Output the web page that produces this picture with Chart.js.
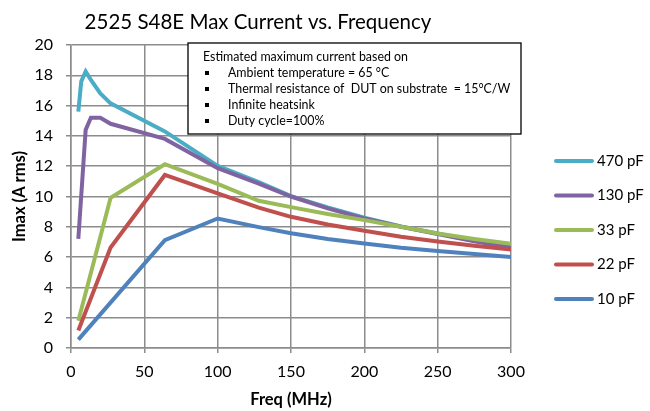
<!DOCTYPE html>
<html>
<head>
<meta charset="utf-8">
<script src="https://cdn.jsdelivr.net/npm/chart.js@4"></script>
<style>
  body{ margin:0; background:#fff; }
  #wrap{ width:650px; height:411px; }
</style>
</head>
<body>
<div id="wrap"><canvas id="chart" width="650" height="411"></canvas></div>
<script>
// frequency points (MHz), null = no point for that series
const freqs   = [5, 7, 10, 13.56, 20, 27, 64, 100, 128, 150, 175, 200, 225, 250, 275, 300];
const imax470 = [15.6, 17.6, 18.25, 17.7, 16.8, 16.15, 14.3, 12.02, 10.95, 10.03, 9.28, 8.6, 8.03, 7.56, 7.07, 6.68];
const imax130 = [7.2, null, 14.4, 15.2, 15.2, 14.8, 13.8, 11.87, 10.85, 10.0, 9.22, 8.55, 8.0, 7.52, 7.05, 6.63];
const imax33  = [1.8, null, null, null, null, 9.92, 12.13, 10.83, 9.72, 9.3, 8.85, 8.44, 8.0, 7.56, 7.2, 6.88];
const imax22  = [1.16, null, null, null, null, 6.63, 11.42, 10.2, 9.26, 8.66, 8.15, 7.74, 7.35, 7.03, 6.75, 6.5];
const imax10  = [0.55, null, null, null, null, null, 7.12, 8.55, 7.98, 7.58, 7.2, 6.9, 6.62, 6.4, 6.2, 6.01];

const seriesLabels = ['10 pF', '22 pF', '33 pF', '130 pF', '470 pF'];
const seriesValues = [imax10, imax22, imax33, imax130, imax470];
const seriesColors = ['#4F81BD', '#C0504D', '#9BBB59', '#8064A2', '#4BACC6'];

const noteLines = [
  'Ambient temperature = 65 \u00B0C',
  'Thermal resistance of  DUT on substrate  = 15\u00B0C/W',
  'Infinite heatsink',
  'Duty cycle=100%'
];

const FONT = 'Lato, "Open Sans", sans-serif';
const GRID = '#8c8c8c';

function toPoints(vals){
  const pts = [];
  vals.forEach((v,i)=>{ if(v !== null) pts.push({x: freqs[i], y: v}); });
  return pts;
}

// title, note box and legend drawn on top
const overlay = {
  id: 'overlay',
  afterDraw(chart){
    const ctx = chart.ctx;
    ctx.save();
    // title
    ctx.fillStyle = '#000';
    ctx.font = '20.5px ' + FONT;
    ctx.textAlign = 'center';
    ctx.textBaseline = 'middle';
    ctx.fillText('2525 S48E Max Current vs. Frequency', 258, 22);

    // note box
    ctx.fillStyle = '#fff';
    ctx.fillRect(188, 43, 333, 91);
    ctx.strokeStyle = '#000';
    ctx.lineWidth = 1.3;
    ctx.strokeRect(188, 43, 333, 91);
    ctx.fillStyle = '#000';
    ctx.font = '12.4px ' + FONT;
    ctx.textAlign = 'left';
    ctx.fillText('Estimated maximum current based on', 203, 57);
    noteLines.forEach((t,i)=>{
      const y = 73 + i*16;
      ctx.fillRect(205, y-2, 4, 4);
      ctx.fillText(t, 228, y);
    });

    // legend (reverse order: 470 on top)
    ctx.font = '15px ' + FONT;
    const ds = chart.data.datasets;
    for(let k=0;k<ds.length;k++){
      const d = ds[ds.length-1-k];
      const y = 161 + k*34.5;
      ctx.strokeStyle = d.borderColor;
      ctx.lineWidth = 4;
      ctx.lineCap = 'round';
      ctx.beginPath();
      ctx.moveTo(556, y);
      ctx.lineTo(592, y);
      ctx.stroke();
      ctx.fillStyle = '#000';
      ctx.fillText(d.label, 597, y);
    }
    ctx.restore();
  }
};

new Chart(document.getElementById('chart'), {
  type: 'line',
  data: {
    datasets: seriesLabels.map((lab,i)=>({
      label: lab,
      data: toPoints(seriesValues[i]),
      borderColor: seriesColors[i],
      backgroundColor: seriesColors[i],
      borderWidth: 4,
      pointRadius: 0,
      tension: 0,
      fill: false
    }))
  },
  options: {
    responsive: false,
    animation: false,
    layout: { padding: { left: 0, right: 139, top: 45, bottom: 0 } },
    plugins: {
      legend: { display: false },
      title: { display: false },
      tooltip: { enabled: false }
    },
    scales: {
      x: {
        type: 'linear',
        min: 0, max: 300,
        afterFit(s){ s.height = 63; },
        grid: { color: GRID, lineWidth: 1.5, tickLength: 5, tickColor: GRID },
        border: { color: GRID, width: 1.5 },
        ticks: { stepSize: 50, color: '#000', padding: 9, font: { family: FONT, size: 16 } },
        title: { display: true, text: 'Freq (MHz)', color: '#000', padding: { top: 0, bottom: 1 },
                 font: { family: FONT, size: 16.5, weight: 'bold' } }
      },
      y: {
        min: 0, max: 20,
        afterFit(s){ s.width = 71; },
        grid: { color: GRID, lineWidth: 1.5, tickLength: 5, tickColor: GRID },
        border: { color: GRID, width: 1.5 },
        ticks: { stepSize: 2, color: '#000', padding: 13, font: { family: FONT, size: 16 } },
        title: { display: true, text: 'Imax (A rms)', color: '#000', padding: { top: 10, bottom: 0 },
                 font: { family: FONT, size: 16.5, weight: 'bold' } }
      }
    }
  },
  plugins: [overlay]
});
</script>
</body>
</html>
